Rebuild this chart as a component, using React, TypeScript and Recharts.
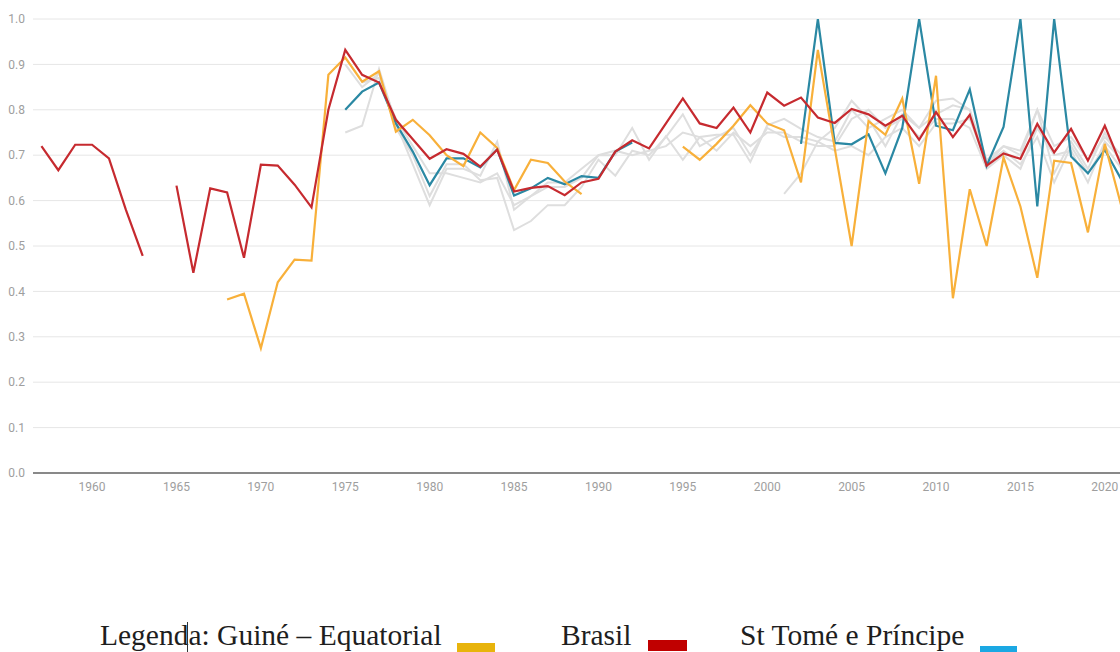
import { LineChart, Line, XAxis, YAxis, CartesianGrid } from "recharts"

// first and last year on the x axis
const FIRST_YEAR = 1957
const LAST_YEAR = 2021

const xTicks = [1960, 1965, 1970, 1975, 1980, 1985, 1990, 1995, 2000, 2005, 2010, 2015, 2020]
const yTicks = [0, 0.1, 0.2, 0.3, 0.4, 0.5, 0.6, 0.7, 0.8, 0.9, 1.0]

// Brasil, from 1957 (gap in 1964)
const brasil = [
  0.72, 0.667, 0.723, 0.723, 0.693, 0.58, 0.478, null, 0.633, 0.441,
  0.627, 0.618, 0.474, 0.679, 0.677, 0.635, 0.585, 0.8, 0.932, 0.877,
  0.86, 0.778, 0.735, 0.692, 0.713, 0.703, 0.675, 0.712, 0.62, 0.628,
  0.632, 0.612, 0.64, 0.648, 0.708, 0.733, 0.715, 0.77, 0.825, 0.77,
  0.76, 0.805, 0.75, 0.838, 0.809, 0.827, 0.783, 0.771, 0.802, 0.79,
  0.765, 0.787, 0.734, 0.795, 0.74, 0.789, 0.677, 0.704, 0.692, 0.769,
  0.706, 0.758, 0.688, 0.765, 0.675,
]

// Guiné Equatorial, from 1968 (no data 1990-1994)
const guine = [
  0.382, 0.395, 0.275, 0.42, 0.47, 0.468, 0.877, 0.915, 0.862, 0.885,
  0.752, 0.778, 0.744, 0.7, 0.676, 0.75, 0.716, 0.623, 0.69, 0.683,
  0.642, 0.614, null, null, null, null, null,
  0.719, 0.69, 0.725, 0.765, 0.81, 0.77, 0.755, 0.64, 0.932, 0.715,
  0.5, 0.775, 0.745, 0.825, 0.637, 0.875, 0.385, 0.625, 0.5, 0.695,
  0.587, 0.43, 0.688, 0.683, 0.53, 0.725, 0.585,
]

// St Tomé e Príncipe, from 1975 (no data 1993-2001)
const stp = [
  0.8, 0.84, 0.86, 0.77, 0.708, 0.634, 0.693, 0.693, 0.673, 0.713,
  0.611, 0.627, 0.65, 0.636, 0.654, 0.65, 0.708, 0.728,
  null, null, null, null, null, null, null, null, null,
  0.725, 1.0, 0.727, 0.724, 0.746, 0.66, 0.76, 1.0, 0.765, 0.755,
  0.845, 0.677, 0.762, 1.0, 0.587, 1.0, 0.697, 0.66, 0.712, 0.645,
]

// other countries (grey background lines)
const other1 = [ // from 1975
  0.75, 0.765, 0.89, 0.77, 0.68, 0.59, 0.67, 0.67, 0.655, 0.73,
  0.58, 0.61, 0.64, 0.64, 0.67, 0.7, 0.7, 0.76, 0.69, 0.742,
  0.69, 0.74, 0.745, 0.745, 0.685, 0.766, 0.78, 0.758, 0.74, 0.73,
  0.8, 0.76, 0.78, 0.8, 0.76, 0.79, 0.81, 0.8, 0.69, 0.72,
  0.7, 0.8, 0.72, 0.74, 0.69, 0.74, 0.7,
]
const other2 = [ // from 1975
  0.9, 0.85, 0.88, 0.76, 0.7, 0.61, 0.68, 0.68, 0.645, 0.65,
  0.535, 0.555, 0.59, 0.59, 0.63, 0.69, 0.655, 0.71, 0.7, 0.74,
  0.79, 0.72, 0.74, 0.76, 0.7, 0.76, 0.74, 0.74, 0.73, 0.71,
  0.72, 0.7, 0.74, 0.76, 0.72, 0.77, 0.77, 0.78, 0.68, 0.71,
  0.68, 0.74, 0.64, 0.72, 0.66, 0.72, 0.67,
]
const other3 = [ // from 1976
  0.86, 0.87, 0.78, 0.72, 0.66, 0.66, 0.65, 0.64, 0.66, 0.59,
  0.61, 0.63, 0.63, 0.65, 0.7, 0.71, 0.7, 0.71, 0.72, 0.75,
  0.74, 0.71, 0.75, 0.72, 0.75, 0.75, 0.73, 0.72, 0.72, 0.78,
  0.8, 0.76, 0.78, 0.74, 0.78, 0.78, 0.76, 0.67, 0.7, 0.67,
  0.76, 0.7, 0.71, 0.64, 0.73, 0.69,
]
const other4 = [ // from 2001
  0.615, 0.66, 0.73, 0.76, 0.82, 0.78, 0.72, 0.79, 0.76, 0.82,
  0.825, 0.8, 0.68, 0.72, 0.71, 0.8, 0.66, 0.73, 0.67, 0.75, 0.68,
]

const seriesStart: Record<string, [number, (number | null)[]]> = {
  brasil: [1957, brasil],
  guine: [1968, guine],
  stp: [1975, stp],
  other1: [1975, other1],
  other2: [1975, other2],
  other3: [1976, other3],
  other4: [2001, other4],
}

// one row per year, null where a series has no value
const rows: any[] = []
for (let y = FIRST_YEAR; y <= LAST_YEAR; y++) {
  const row: any = { year: y }
  for (const key of Object.keys(seriesStart)) {
    const [start, vals] = seriesStart[key]
    const v = vals[y - start]
    row[key] = v === undefined ? null : v
  }
  rows.push(row)
}

const tickStyle = { fontSize: 12, fill: "#9e9e9e", fontFamily: "Roboto" }
const greyLines = ["other1", "other2", "other3", "other4"]

export default function App() {
  return (
    <div style={{ position: "fixed", left: 0, top: 0, width: 1120, height: 652, background: "#fff", overflow: "hidden" }}>
      <LineChart
        width={1120}
        height={520}
        data={rows}
        margin={{ top: 19, right: 0, left: 0, bottom: 17 }}
      >
        <CartesianGrid vertical={false} stroke="#e6e6e6" strokeWidth={1} />
        <XAxis
          dataKey="year"
          type="number"
          domain={[1956.5, 2020.9]}
          ticks={xTicks}
          allowDataOverflow
          tick={tickStyle}
          tickLine={false}
          axisLine={{ stroke: "#666", strokeWidth: 1.5 }}
          tickMargin={3}
          height={30}
        />
        <YAxis
          domain={[0, 1]}
          ticks={yTicks}
          tickFormatter={(v) => v.toFixed(1)}
          allowDataOverflow
          tick={tickStyle}
          tickLine={false}
          axisLine={false}
          width={33}
          tickMargin={2}
        />
        {greyLines.map((k) => (
          <Line
            key={k}
            dataKey={k}
            stroke="#dedede"
            strokeWidth={2}
            dot={false}
            isAnimationActive={false}
          />
        ))}
        <Line dataKey="stp" stroke="#2a88a3" strokeWidth={2.2} dot={false} isAnimationActive={false} />
        <Line dataKey="guine" stroke="#f8b03a" strokeWidth={2.2} dot={false} isAnimationActive={false} />
        <Line dataKey="brasil" stroke="#c62a2f" strokeWidth={2.2} dot={false} isAnimationActive={false} />
      </LineChart>

      {/* legend typed under the chart */}
      <svg width={1120} height={132} style={{ position: "absolute", left: 0, top: 520 }}>
        <g fontFamily="Liberation Serif" fontSize={29.5} fill="#1e1e1e">
          <text x={100} y={125}>Legenda: Guiné – Equatorial</text>
          <text x={561} y={125}>Brasil</text>
          <text x={740} y={125}>St Tomé e Príncipe</text>
        </g>
        <rect x={457} y={123} width={38} height={10} fill="#e8b40c" />
        <rect x={648} y={120} width={39} height={11} fill="#c00000" />
        <rect x={980} y={126} width={37} height={8} fill="#1ba8e3" />
        <line x1={187.5} y1={102} x2={187.5} y2={132} stroke="#333" strokeWidth={1} />
      </svg>
    </div>
  )
}
